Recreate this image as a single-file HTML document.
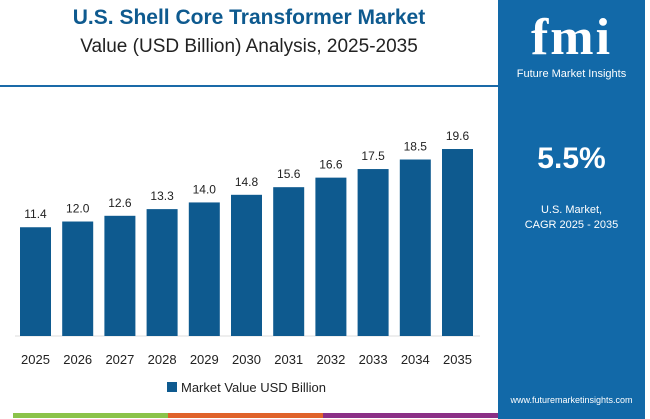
<!DOCTYPE html>
<html><head><meta charset="utf-8"><style>
body{margin:0;width:650px;height:419px;background:#fff;position:relative;overflow:hidden;font-family:"Liberation Sans",sans-serif}
.t1{position:absolute;left:0;width:498px;top:6px;text-align:center;font-size:21px;font-weight:bold;color:#0e5a8f}
.t2{position:absolute;left:0;width:498px;top:36px;text-align:center;font-size:19px;color:#222}
.panel{position:absolute;left:498px;top:0;width:147px;height:419px;background:#1269a8}
</style></head><body>
<div class="t1">U.S. Shell Core Transformer Market</div>
<div class="t2">Value (USD Billion) Analysis, 2025-2035</div>
<div style="position:absolute;left:0;top:85px;width:498px;height:2px;background:#1a6aa8"></div>
<div class="panel">
<div style="position:absolute;top:8px;width:147px;text-align:center;font:bold 52px 'Liberation Serif',serif;color:#fff;letter-spacing:2px">fmi</div>
<div style="position:absolute;top:68px;width:147px;text-align:center;font-size:11px;color:#fff">Future Market Insights</div>
<div style="position:absolute;top:142px;width:147px;text-align:center;font-size:30px;font-weight:bold;color:#fff">5.5%</div>
<div style="position:absolute;top:203px;width:147px;text-align:center;font-size:11px;line-height:15px;color:#fff">U.S. Market,<br>CAGR 2025 - 2035</div>
<div style="position:absolute;top:395px;width:147px;text-align:center;font-size:9px;color:#fff">www.futuremarketinsights.com</div>
</div>
<svg id="chart" width="498" height="419" style="position:absolute;left:0;top:0"></svg>
<div style="position:absolute;left:13px;top:413px;width:155px;height:5px;background:#8bc34a"></div>
<div style="position:absolute;left:168px;top:413px;width:155px;height:5px;background:#e0622a"></div>
<div style="position:absolute;left:323px;top:413px;width:175px;height:5px;background:#8b2f86"></div>
<script>
const years=["2025","2026","2027","2028","2029","2030","2031","2032","2033","2034","2035"];
const values=[11.4,12.0,12.6,13.3,14.0,14.8,15.6,16.6,17.5,18.5,19.6];
const labels=["11.4","12.0","12.6","13.3","14.0","14.8","15.6","16.6","17.5","18.5","19.6"];
const svg=document.getElementById('chart');const NS="http://www.w3.org/2000/svg";
const base=336,k=9.54,x0=15,step=42.2,bw=31;
const y=v=>base-v*k;const x=i=>x0+i*step;
function mk(t,a){const e=document.createElementNS(NS,t);for(const n in a)e.setAttribute(n,a[n]);svg.appendChild(e);return e;}
let ax=mk('line',{x1:15,x2:480,y1:base,y2:base,stroke:'#ddd'});


years.forEach((yr,i)=>{
 const r=mk('rect',{x:x(i)+5,y:y(values[i]),width:bw,height:values[i]*k,fill:'#0e5a8f'});
 
 
 const tl=mk('text',{x:x(i)+5+bw/2,y:y(values[i])-9,'text-anchor':'middle','font-size':'12',fill:'#222'});
 tl.textContent=labels[i];
 
 
 const xl=mk('text',{x:x(i)+5+bw/2,y:364,'text-anchor':'middle','font-size':'13',fill:'#222'});
 xl.textContent=yr;
 
 
});
const lg=mk('rect',{x:167,y:382,width:10,height:10,fill:'#0e5a8f'});


const lt=mk('text',{x:181,y:392,'font-size':'13',fill:'#222'});
lt.textContent='Market Value USD Billion';


</script>
</body></html>
